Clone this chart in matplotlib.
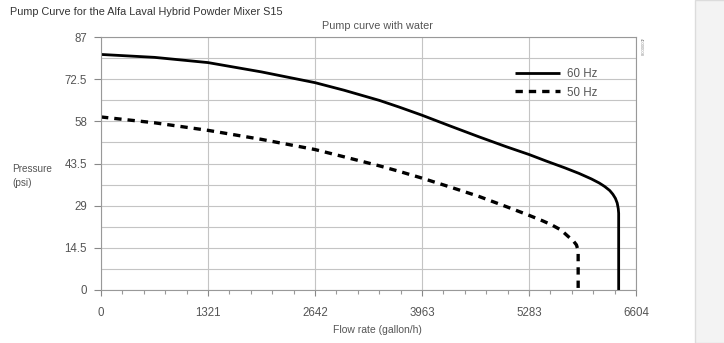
import numpy as np
import matplotlib.pyplot as plt
from matplotlib.ticker import MultipleLocator

plt.rcParams['font.family'] = ['Liberation Sans', 'DejaVu Sans']

flow_60 = [0, 660, 1321, 1980, 2642, 3000, 3436, 3681, 3963, 4300, 4663, 5000, 5283, 5500, 5726,
           5900, 6053, 6150, 6217, 6280, 6319, 6350, 6372, 6385, 6390, 6390]
psi_60 = [81.0, 80.0, 78.2, 75.0, 71.3, 68.7, 65.2, 62.9, 60.1, 56.5, 52.7, 49.3, 46.6, 44.3, 42.0,
          40.1, 38.2, 36.8, 35.6, 34.2, 32.9, 31.5, 29.9, 28.0, 26.4, 0]
flow_50 = [0, 660, 1321, 1980, 2642, 3000, 3436, 3681, 3947, 4300, 4663, 5000, 5264, 5450, 5563,
           5680, 5767, 5830, 5869, 5885, 5890, 5890]
psi_50 = [59.5, 57.5, 54.9, 51.8, 48.3, 45.8, 42.7, 40.8, 38.6, 35.5, 32.2, 28.7, 25.9, 23.8, 22.4,
          20.6, 18.4, 16.9, 15.5, 14.0, 12.6, 0]
xticks = [0, 1321, 2642, 3963, 5283, 6604]
yticks = [0, 14.5, 29, 43.5, 58, 72.5, 87]
ylabels = ['0', '14.5', '29', '43.5', '58', '72.5', '87']

txt = '#555555'
grid = '#c4c4c4'

fig = plt.figure(figsize=(7.24, 3.43), dpi=100)
# gray side panel on the right
fig.patches.append(plt.Rectangle((695/724, 0), 1, 1, transform=fig.transFigure,
                                 facecolor='#f3f3f3', edgecolor='#dcdcdc', lw=1, zorder=0))
ax = fig.add_axes([101/724, 53/343, 535/724, 253/343])

ax.plot(flow_60, psi_60, color='black', lw=2.0, label='60 Hz', solid_capstyle='butt')
ax.plot(flow_50, psi_50, color='black', lw=2.4, ls=(0, (2.2, 1.8)), label='50 Hz')

ax.set_xlim(0, 6604)
ax.set_ylim(0, 87)
ax.set_xticks(xticks)
ax.set_yticks(yticks)
ax.set_yticklabels(ylabels)
ax.xaxis.set_minor_locator(MultipleLocator(1321 / 5))
ax.yaxis.set_minor_locator(MultipleLocator(7.25))
ax.grid(which='major', axis='x', color=grid, lw=0.8)
ax.grid(which='both', axis='y', color=grid, lw=0.8)
ax.set_axisbelow(True)
ax.tick_params(axis='y', which='major', length=5, width=0.8, color='#888888',
               labelsize=8.3, labelcolor=txt, pad=5)
ax.tick_params(axis='y', which='minor', length=0)
ax.tick_params(axis='x', which='major', length=4, width=0.8, color='#888888',
               labelsize=8.3, labelcolor=txt, pad=8)
ax.tick_params(axis='x', which='minor', length=3, width=0.8, color='#999999')
for s in ax.spines.values():
    s.set_color('#999999')
    s.set_linewidth(0.8)

fig.text(377/724, 1 - 26/343, 'Pump curve with water', fontsize=7.8, color=txt,
         ha='center', va='center')
fig.text(377/724, 1 - 330/343, 'Flow rate (gallon/h)', fontsize=7.5, color=txt,
         ha='center', va='center')
fig.text(12/724, 1 - 176/343, 'Pressure\n(psi)', fontsize=7.2, color=txt,
         ha='left', va='center', linespacing=1.6)
fig.text(10/724, 1 - 12/343, 'Pump Curve for the Alfa Laval Hybrid Powder Mixer S15',
         fontsize=7.8, color='#333333', ha='left', va='center')
fig.text(641/724, 1 - 47/343, '40000008', fontsize=3, color='#888888',
         rotation=270, ha='center', va='center')

ax.legend(loc='upper left', bbox_to_anchor=(0.755, 0.92), frameon=False,
          fontsize=8.3, handlelength=3.9, handletextpad=0.6, labelspacing=0.6,
          labelcolor=txt)

fig.savefig('out.png', dpi=100)
